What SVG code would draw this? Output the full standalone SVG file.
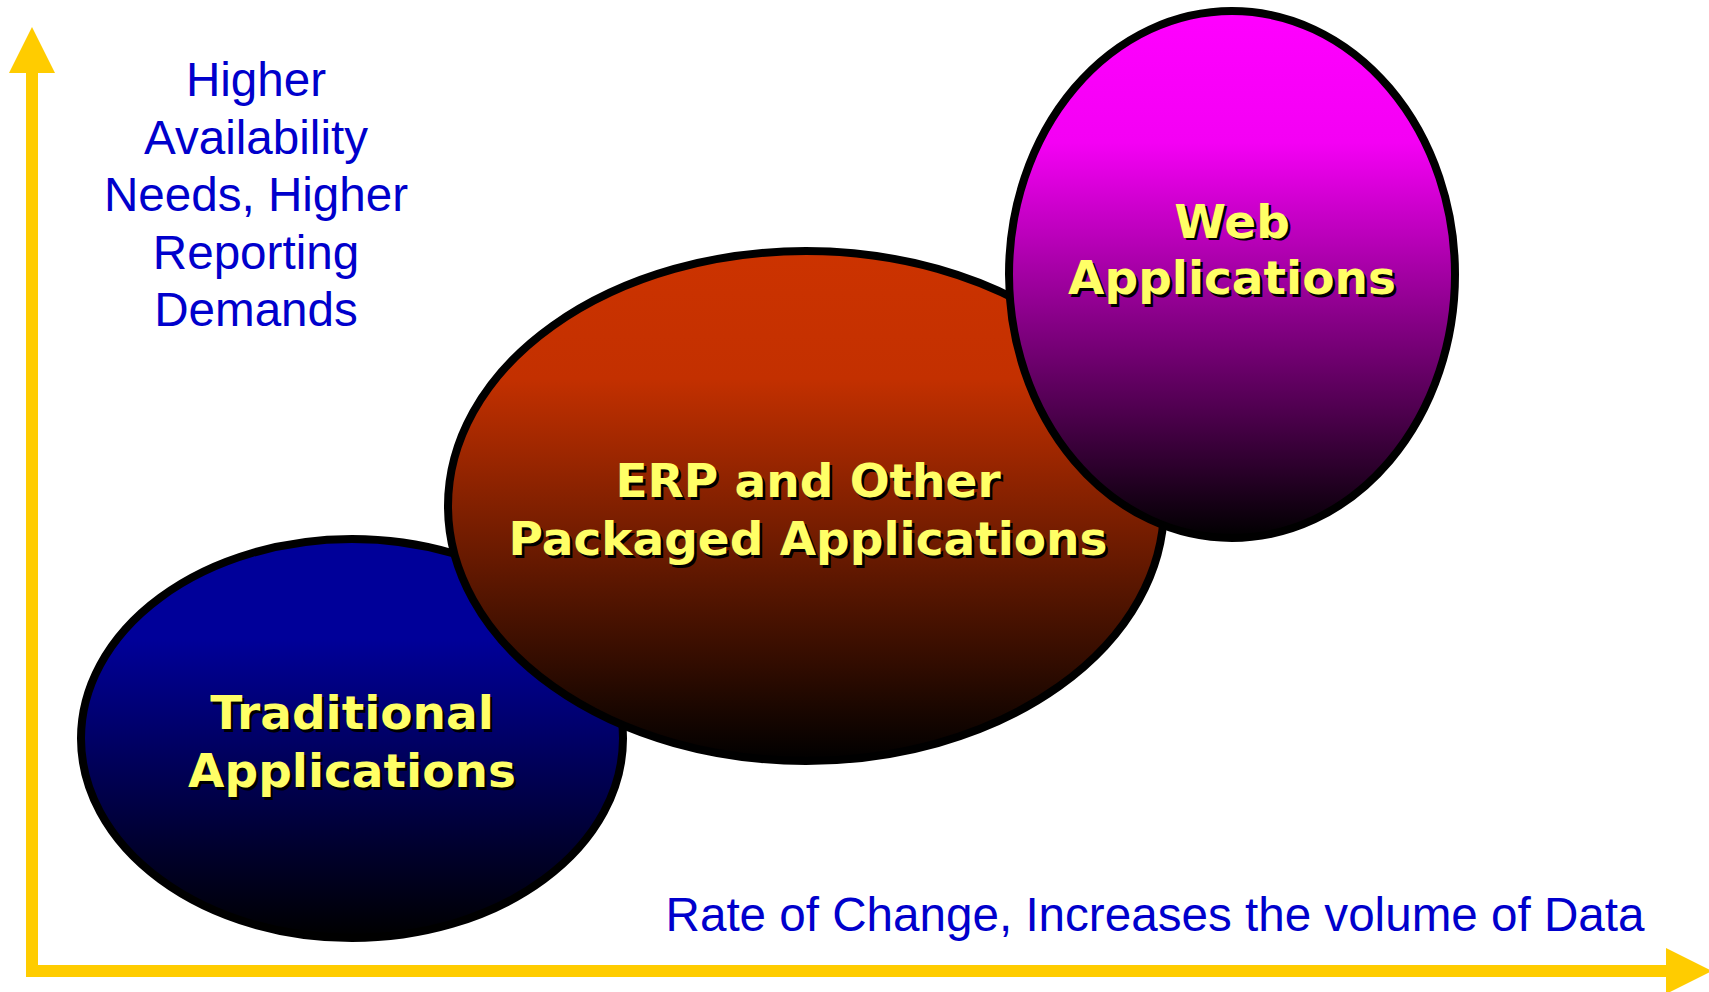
<svg xmlns="http://www.w3.org/2000/svg" width="1709" height="992" viewBox="0 0 1709 992">
<defs>
<linearGradient id="gBlue" x1="0" y1="0" x2="0" y2="1">
<stop offset="0" stop-color="#000099"/>
<stop offset="0.25" stop-color="#000099"/>
<stop offset="1" stop-color="#000000"/>
</linearGradient>
<linearGradient id="gRed" x1="0" y1="0" x2="0" y2="1">
<stop offset="0" stop-color="#CC3300"/>
<stop offset="0.25" stop-color="#C33000"/>
<stop offset="1" stop-color="#000000"/>
</linearGradient>
<linearGradient id="gMag" x1="0" y1="0" x2="0" y2="1">
<stop offset="0" stop-color="#FF00FF"/>
<stop offset="0.25" stop-color="#F400F4"/>
<stop offset="1" stop-color="#000000"/>
</linearGradient>
</defs>
<style>
.blob{stroke:#000;stroke-width:8}
.lbl{font-family:"DejaVu Sans",Verdana,sans-serif;font-weight:bold;font-size:47px;text-anchor:middle}
.sh{fill:#000}
.fg{fill:#FFFF66}
.axt{font-family:"Liberation Sans",Arial,sans-serif;font-size:47.6px;fill:#0000CC;text-anchor:middle}
.axis{fill:#FFCC00}
</style>
<rect width="1709" height="992" fill="#fff"/>
<g id="axes">
<rect class="axis" x="26" y="70" width="12" height="907"/>
<polygon class="axis" points="9,73 32,27 55,73"/>
<rect class="axis" x="26" y="965" width="1643" height="12"/>
<polygon class="axis" points="1666,948 1712,971 1666,994"/>
</g>
<g id="y-label">
<text class="axt" x="256" y="96">Higher</text>
<text class="axt" x="256" y="154">Availability</text>
<text class="axt" x="256" y="211">Needs, Higher</text>
<text class="axt" x="256" y="269">Reporting</text>
<text class="axt" x="256" y="326">Demands</text>
</g>
<g id="x-label">
<text class="axt" x="1155" y="931">Rate of Change, Increases the volume of Data</text>
</g>
<g id="traditional">
<ellipse class="blob" cx="352" cy="738.5" rx="271" ry="199.5" fill="url(#gBlue)"/>
<text class="lbl sh" x="354.5" y="731.5">Traditional</text>
<text class="lbl sh" x="354.5" y="789.5">Applications</text>
<text class="lbl fg" x="352" y="729">Traditional</text>
<text class="lbl fg" x="352" y="787">Applications</text>
</g>
<g id="erp">
<ellipse class="blob" cx="806" cy="506" rx="358" ry="255" fill="url(#gRed)"/>
<text class="lbl sh" x="810.5" y="499.5">ERP and Other</text>
<text class="lbl sh" x="810.5" y="557.5">Packaged Applications</text>
<text class="lbl fg" x="808" y="497">ERP and Other</text>
<text class="lbl fg" x="808" y="555">Packaged Applications</text>
</g>
<g id="web">
<ellipse class="blob" cx="1232" cy="274.5" rx="223" ry="263.5" fill="url(#gMag)"/>
<text class="lbl sh" x="1234.5" y="240">Web</text>
<text class="lbl sh" x="1234.5" y="296.5">Applications</text>
<text class="lbl fg" x="1232" y="237.5">Web</text>
<text class="lbl fg" x="1232" y="294">Applications</text>
</g>
</svg>
